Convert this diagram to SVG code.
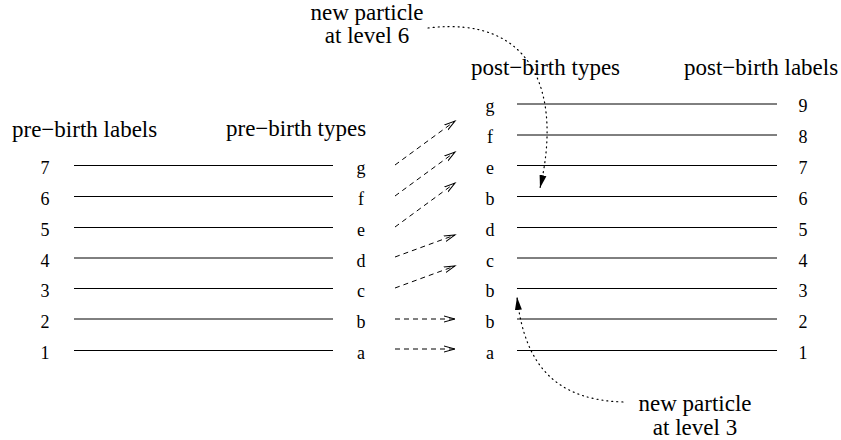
<svg xmlns="http://www.w3.org/2000/svg" width="841" height="440" viewBox="0 0 841 440">
<defs>
<style>
.h{font-size:23px}
.s{font-size:18px;text-anchor:middle}
.c{text-anchor:middle}
.lvl{stroke:#000;stroke-width:1;fill:none}
.mv{stroke:#000;stroke-width:1;fill:none;stroke-dasharray:5,4;marker-end:url(#open)}
.dot{stroke:#000;stroke-width:1.2;fill:none;stroke-dasharray:1,4;stroke-linecap:round;marker-end:url(#solid)}
</style>
<marker id="open" markerUnits="userSpaceOnUse" markerWidth="14" markerHeight="10" refX="11" refY="4" orient="auto">
<path d="M0,1 L11,4 L0,7" fill="none" stroke="#000" stroke-width="1"/>
</marker>
<marker id="solid" markerUnits="userSpaceOnUse" markerWidth="16" markerHeight="10" refX="13" refY="4" orient="auto">
<path d="M0,0.5 L13,4 L0,7.5 Z" fill="#000" stroke="none"/>
</marker>
</defs>
<rect width="841" height="440" fill="#fff"/>
<g font-family="Liberation Serif" fill="#000">
<g id="headings">
<text class="h" x="12" y="137">pre−birth labels</text>
<text class="h" x="226" y="136">pre−birth types</text>
<text class="h" x="471" y="75">post−birth types</text>
<text class="h" x="684" y="75">post−birth labels</text>
</g>
<g id="pre-levels">
<line class="lvl" x1="74" y1="165.5" x2="333" y2="165.5"/>
<line class="lvl" x1="74" y1="196.5" x2="333" y2="196.5"/>
<line class="lvl" x1="74" y1="227.5" x2="333" y2="227.5"/>
<line class="lvl" x1="74" y1="258" x2="333" y2="258"/>
<line class="lvl" x1="74" y1="288.5" x2="333" y2="288.5"/>
<line class="lvl" x1="74" y1="319" x2="333" y2="319"/>
<line class="lvl" x1="74" y1="350.5" x2="333" y2="350.5"/>
<text class="s" x="45" y="174">7</text>
<text class="s" x="45" y="205">6</text>
<text class="s" x="45" y="236">5</text>
<text class="s" x="45" y="267">4</text>
<text class="s" x="45" y="297">3</text>
<text class="s" x="45" y="328">2</text>
<text class="s" x="45" y="359">1</text>
<text class="s" x="361" y="174">g</text>
<text class="s" x="361" y="205">f</text>
<text class="s" x="361" y="236">e</text>
<text class="s" x="361" y="267">d</text>
<text class="s" x="361" y="297">c</text>
<text class="s" x="361" y="328">b</text>
<text class="s" x="361" y="359">a</text>
</g>
<g id="post-levels">
<line class="lvl" x1="517" y1="104" x2="777" y2="104"/>
<line class="lvl" x1="517" y1="135" x2="777" y2="135"/>
<line class="lvl" x1="517" y1="165.5" x2="777" y2="165.5"/>
<line class="lvl" x1="517" y1="196.5" x2="777" y2="196.5"/>
<line class="lvl" x1="517" y1="227.5" x2="777" y2="227.5"/>
<line class="lvl" x1="517" y1="258" x2="777" y2="258"/>
<line class="lvl" x1="517" y1="288.5" x2="777" y2="288.5"/>
<line class="lvl" x1="517" y1="319" x2="777" y2="319"/>
<line class="lvl" x1="517" y1="350.5" x2="777" y2="350.5"/>
<text class="s" x="490" y="112">g</text>
<text class="s" x="490" y="143">f</text>
<text class="s" x="490" y="174">e</text>
<text class="s" x="490" y="205">b</text>
<text class="s" x="490" y="236">d</text>
<text class="s" x="490" y="267">c</text>
<text class="s" x="490" y="297">b</text>
<text class="s" x="490" y="328">b</text>
<text class="s" x="490" y="359">a</text>
<text class="s" x="803" y="112">9</text>
<text class="s" x="803" y="143">8</text>
<text class="s" x="803" y="174">7</text>
<text class="s" x="803" y="205">6</text>
<text class="s" x="803" y="236">5</text>
<text class="s" x="803" y="267">4</text>
<text class="s" x="803" y="297">3</text>
<text class="s" x="803" y="328">2</text>
<text class="s" x="803" y="359">1</text>
</g>
<g id="note-6">
<text class="h c" x="367" y="20">new particle</text>
<text class="h c" x="367" y="43">at level 6</text>
</g>
<g id="note-3">
<text class="h c" x="695" y="411">new particle</text>
<text class="h c" x="695" y="435">at level 3</text>
</g>
</g>
<g id="connectors">
<line class="mv" x1="395" y1="165" x2="455" y2="121"/>
<line class="mv" x1="395" y1="196" x2="455" y2="152"/>
<line class="mv" x1="395" y1="227" x2="455" y2="183"/>
<line class="mv" x1="395" y1="257" x2="455" y2="235"/>
<line class="mv" x1="395" y1="288" x2="455" y2="266"/>
<line class="mv" x1="395" y1="319" x2="455" y2="319"/>
<line class="mv" x1="395" y1="349" x2="455" y2="349"/>
<path class="dot" d="M428,28 C535,15 562,95 540,188"/>
<path class="dot" d="M623,402 C560,400 525,370 517,297"/>
</g>
</svg>
